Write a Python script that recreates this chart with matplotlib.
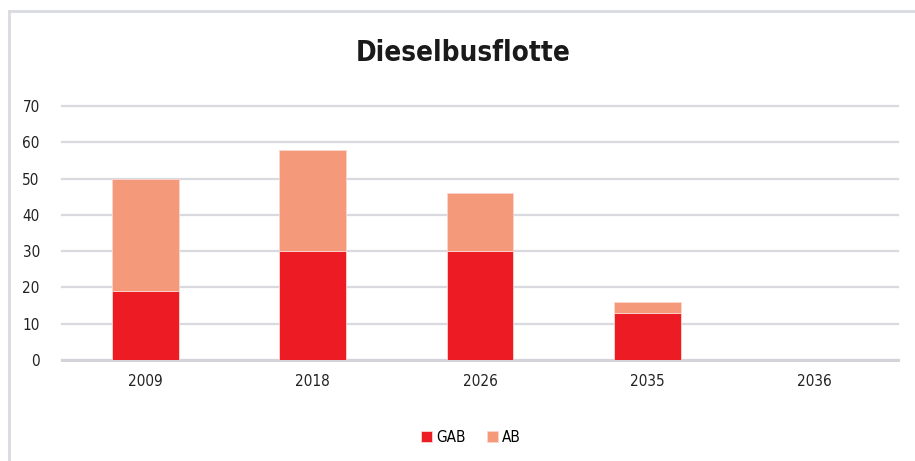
import numpy as np
import matplotlib.pyplot as plt
from matplotlib.lines import Line2D

years = ["2009", "2018", "2026", "2035", "2036"]
gab = [19, 30, 30, 13, 0]
ab = [31, 28, 16, 3, 0]

plt.rcParams['font.family'] = ['DejaVu Sans']
plt.rcParams['font.stretch'] = 'condensed'

fig = plt.figure(figsize=(9.15, 4.61), dpi=100)
ax = fig.add_axes([62/915, 101/461, 836/915, 254/461])

x = np.arange(len(years))
ax.bar(x, gab, width=0.4, color="#ED1C24", edgecolor="#fbd6cf", linewidth=0.6, label="GAB", zorder=3)
ax.bar(x, ab, width=0.4, bottom=gab, color="#F4997A", edgecolor="#fbd6cf", linewidth=0.6, label="AB", zorder=3)

ax.set_xlim(-0.5, len(years) - 0.5)
ax.set_ylim(0, 70)
ax.set_yticks(range(0, 71, 10))
ax.set_xticks(x)
ax.set_xticklabels(years)
ax.yaxis.grid(True, color="#d9d9e0", linewidth=1.6, zorder=0, clip_on=False)
for s in ["top", "right", "left"]:
    ax.spines[s].set_visible(False)
ax.spines["bottom"].set_color("#d3d4db")
ax.spines["bottom"].set_linewidth(2.2)
ax.tick_params(length=0, labelsize=11, colors="#222222")
ax.tick_params(axis="y", pad=16)
ax.tick_params(axis="x", pad=10)

fig.text(463/915, 1 - 53/461, "Dieselbusflotte", ha="center", va="center",
         fontsize=20, fontweight="bold", color="#1a1a1a")

ax.legend(loc="center", bbox_to_anchor=(471/915, 1 - 437/461), bbox_transform=fig.transFigure,
          ncol=2, frameon=False, fontsize=11, handlelength=0.7, handleheight=0.7,
          handletextpad=0.3, columnspacing=1.4)

# light frame at left and top
fig.add_artist(Line2D([9/915, 9/915], [0, 1 - 11/461], color="#d9dbe0", linewidth=2, transform=fig.transFigure))
fig.add_artist(Line2D([9/915, 1], [1 - 11/461, 1 - 11/461], color="#d9dbe0", linewidth=2, transform=fig.transFigure))

fig.savefig("out.png", dpi=100)
